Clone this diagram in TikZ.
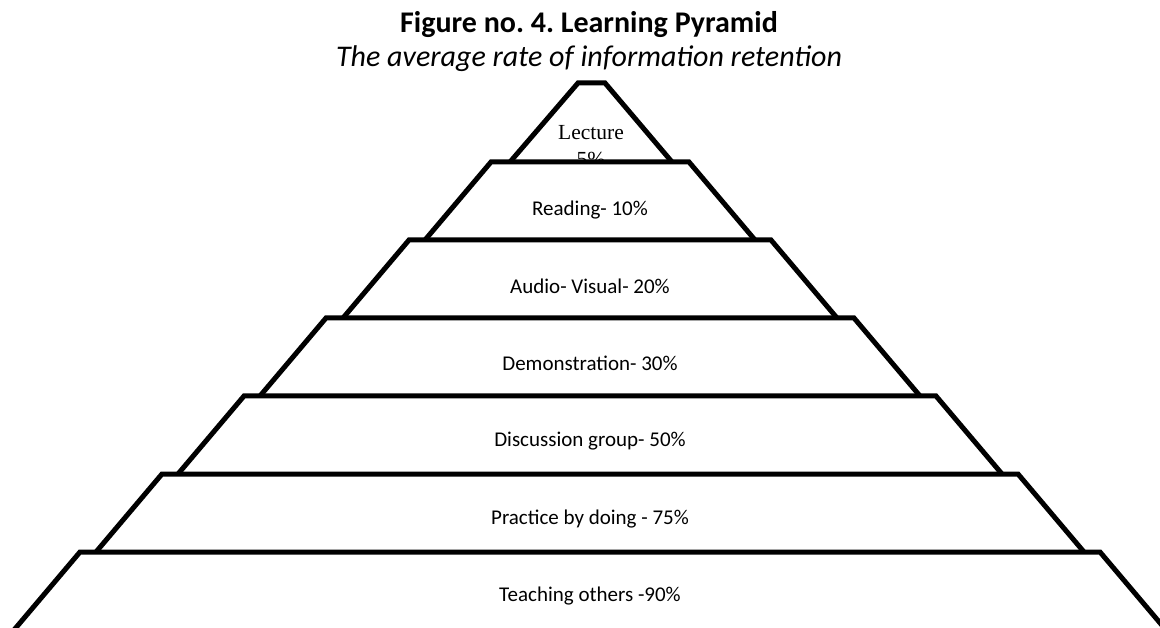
\documentclass[tikz,border=0pt]{standalone}
\usepackage{fontspec}
\setmainfont{Carlito}
\newfontfamily\lectfont{Liberation Serif}
\frenchspacing
\begin{document}
\begin{tikzpicture}[x=1pt,y=-1pt,
  layerline/.style={draw=black, line width=5pt, line join=miter},
  layerfill/.style={fill=white},
  lbl/.style={font=\fontsize{21}{25}\selectfont, inner sep=0pt, anchor=center},
  lectlbl/.style={font=\lectfont\fontsize{21.5}{27}\selectfont, inner sep=0pt, align=center, anchor=base}]
\useasboundingbox (0,0) rectangle (1160,628);
\clip (0,0) rectangle (1160,628);
% titles
\node[font=\bfseries\fontsize{30}{36}\selectfont, anchor=base, inner sep=0pt] (title) at (589,33) {Figure no. 4. Learning Pyramid};
\node[font=\itshape\fontsize{30}{36}\selectfont, anchor=base, inner sep=0pt] (subtitle) at (589,67) {The average rate of information retention};
% lecture layer
\fill[layerfill] (578,83) -- (605,83) -- (672,162) -- (510,162) -- cycle;
\draw[layerline] (510,162) -- (578,83) -- (605,83) -- (672,162);
\node[lectlbl] (lecture) at (591,167) {Lecture\\5\%};
% other layers
\foreach \yt/\yb/\h/\b in {162/240/99/165, 240/318/181/247, 318/396/264/330, 396/474/346/412, 474/552/428/494, 552/630/510/576}{
  \fill[layerfill] ({590-\h},\yt) -- ({590+\h},\yt) -- ({590+\b},\yb) -- ({590-\b},\yb) -- cycle;
  \draw[layerline] ({590-\b},\yb) -- ({590-\h},\yt) -- ({590+\h},\yt) -- ({590+\b},\yb);
}
\node[lbl] (reading) at (590,210) {Reading- 10\%};
\node[lbl] (audio) at (590,286) {Audio- Visual- 20\%};
\node[lbl] (demo) at (590,363) {Demonstration- 30\%};
\node[lbl] (discussion) at (590,441) {Discussion group- 50\%};
\node[lbl] (practice) at (590,519) {Practice by doing - 75\%};
\node[lbl] (teaching) at (590,596) {Teaching others -90\%};
\end{tikzpicture}
\end{document}
